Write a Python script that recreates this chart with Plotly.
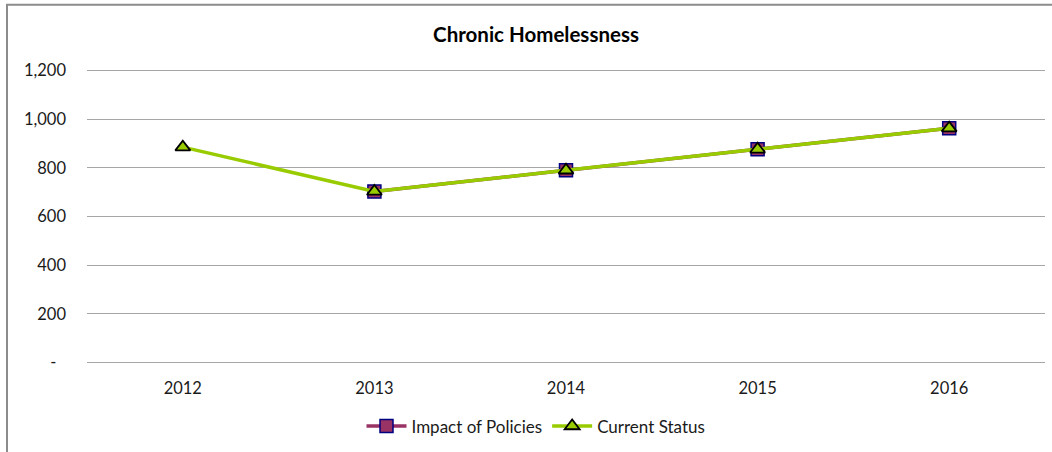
import plotly.graph_objects as go

years = ["2012", "2013", "2014", "2015", "2016"]
impact_of_policies = [None, 703, 790, 876, 963]
current_status = [885, 703, 790, 876, 963]
y_tick_vals = [0, 200, 400, 600, 800, 1000, 1200]
y_tick_text = ["-\u2007", "200", "400", "600", "800", "1,000", "1,200"]

FONT = "Lato"
W, H = 1052, 452
L, R, T, B = 87, 7, 69.2, 87.5
pw = W - L - R
ph = H - T - B

fig = go.Figure()
fig.add_trace(go.Scatter(
    x=list(range(len(years))), y=impact_of_policies, name="Impact of Policies",
    mode="lines+markers",
    line=dict(color="#993366", width=3.5),
    marker=dict(symbol="square", size=13, color="#993366",
                line=dict(color="#000080", width=1.5)),
))
fig.add_trace(go.Scatter(
    x=list(range(len(years))), y=current_status, name="Current Status",
    mode="lines+markers",
    line=dict(color="#99CC00", width=3.5),
    marker=dict(symbol="triangle-up", size=13, color="#99CC00",
                line=dict(color="#000000", width=1.8)),
))

# outer chart border (left and top visible)
fig.add_shape(type="rect", xref="paper", yref="paper",
              x0=(7 - L) / pw, x1=(W + 20 - L) / pw,
              y0=-(H + 20 - (H - B)) / ph, y1=(H - B - 5) / ph,
              line=dict(color="#8c8c8c", width=2), layer="below")

fig.update_layout(
    width=W, height=H,
    margin=dict(l=L, r=R, t=T, b=B),
    paper_bgcolor="white", plot_bgcolor="white",
    font=dict(family=FONT, size=16.5, color="#1a1a1a"),
    title=dict(text="<b>Chronic Homelessness</b>", x=(536 - L) / pw, xref="paper",
               xanchor="center", y=1 - 35 / H, yanchor="middle",
               font=dict(family=FONT, size=20.5, color="#000000")),
    xaxis=dict(range=[-0.5, 4.5], tickvals=list(range(len(years))), ticktext=years,
               showgrid=False, zeroline=False, showline=False, ticks="",
               ticklabelstandoff=12, fixedrange=True),
    yaxis=dict(range=[-6, 1206], tickvals=y_tick_vals, ticktext=y_tick_text,
               showgrid=True, gridcolor="#a6a6a6", gridwidth=1,
               zeroline=False, showline=False, ticks="",
               ticklabelstandoff=20, fixedrange=True),
    legend=dict(orientation="h", x=(536 - L) / pw, xanchor="center",
                y=-(427 - (H - B)) / ph, yanchor="middle",
                font=dict(family=FONT, size=17, color="#1a1a1a"),
                itemwidth=40, tracegroupgap=0),
    showlegend=True,
)

fig.write_html("out.html", config={"displayModeBar": False})
with open("out.html", encoding="utf-8") as f:
    html = f.read()
html = html.replace("<head>", "<head><style>html,body{margin:0;padding:0;overflow:hidden;}</style>", 1)
with open("out.html", "w", encoding="utf-8") as f:
    f.write(html)
